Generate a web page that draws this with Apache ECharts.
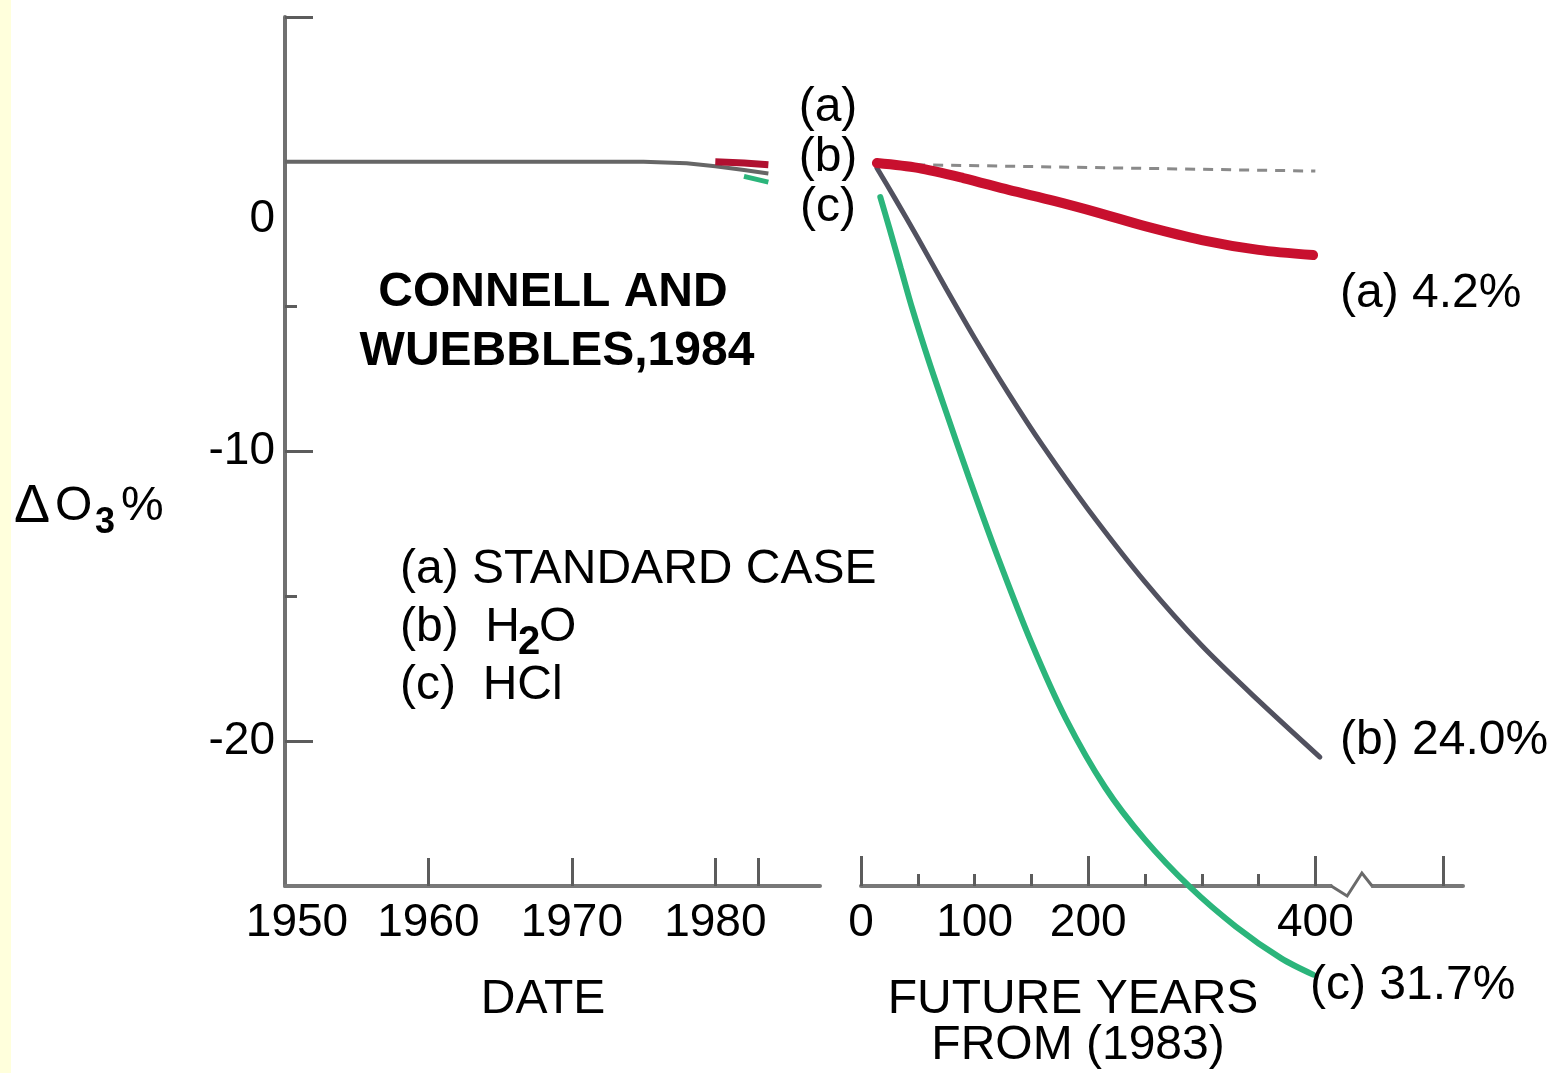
<!DOCTYPE html>
<html>
<head>
<meta charset="utf-8">
<script src="https://cdn.jsdelivr.net/npm/echarts@6/dist/echarts.min.js"></script>
<style>
  html, body { margin: 0; padding: 0; background: #ffffff; }
  #strip { position: absolute; left: 0; top: 0; width: 11px; height: 1073px; background: #ffffdc; }
  #chart { position: absolute; left: 0; top: 0; width: 1555px; height: 1073px; }
</style>
</head>
<body>
<div id="strip"></div>
<div id="chart"></div>
<script>
const FONT = '"Liberation Sans", Arial, Helvetica, sans-serif';

// ---- Observed period, 1950-1983 (ΔO3 %) ----
const historyYears = [1950, 1960, 1970, 1975, 1978, 1980, 1982, 1983.7];
const historyA = [null, null, null, null, null, 0.0, -0.04, -0.1];
const historyB = [0.0, 0.0, 0.0, 0.0, -0.05, -0.15, -0.28, -0.4];
const historyC = [null, null, null, null, null, null, -0.5, -0.7];

// ---- Future years from 1983 ----
const futureYearsA = [14, 50, 90, 130, 170, 210, 250, 300, 350, 398];
const futureA = [-0.04, -0.21, -0.56, -0.97, -1.35, -1.77, -2.22, -2.70, -3.04, -3.22];

const futureYearsB = [14, 30, 50, 75, 100, 130, 160, 200, 250, 300, 350, 404];
const futureB = [-0.21, -1.27, -2.63, -4.38, -6.08, -8.0, -9.8, -12.0, -14.5, -16.7, -18.6, -20.55];

const futureYearsC = [17, 25, 35, 45, 60, 75, 95, 120, 150, 180, 215, 250, 290, 330, 370, 398];
const futureC = [-1.22, -2.29, -3.67, -5.05, -6.91, -8.64, -10.9, -13.6, -16.6, -19.2, -21.6, -23.4, -25.05, -26.4, -27.5, -28.06];

// unperturbed reference (dashed)
const referenceYears = [16, 400];
const referenceValues = [-0.08, -0.32];

// steady-state column ozone decrease for each case (%)
const caseNames = ['(a)', '(b)', '(c)'];
const steadyStateLoss = [4.2, 24.0, 31.7];

// axis ticks and labels
const dateTicks = [1960, 1970, 1980, 1983];
const dateLabels = [1950, 1960, 1970, 1980];
const futureMajorTicks = [0, 200, 400, 513];
const futureMinorTicks = [50, 100, 150, 250, 300, 350];
const futureLabels = [0, 100, 200, 400];
const yMajorTicks = [5, -10, -20];
const yMinorTicks = [-5, -15];
const yLabels = [0, -10, -20];

const zip = (xs, ys) => xs.map((x, i) => [x, ys[i]]);

const axisColor = '#787878';
const tickColor = '#5c5c5c';
const C_A = '#c8102e', C_B = '#51515f', C_C = '#2bb57b', C_HIST = '#666666';

const leftGrid = { left: 285, top: 17, width: 535, height: 869 };
const rightGrid = { left: 861, top: 17, width: 602, height: 869 };

const labelBase = { color: '#000', fontSize: 46, fontFamily: FONT };

const chart = echarts.init(document.getElementById('chart'), null, { renderer: 'canvas' });

const smoothLine = { symbol: 'none', smooth: 0.3, clip: false };

const option = {
  backgroundColor: 'transparent',
  animation: false,
  grid: [
    Object.assign({}, leftGrid),
    Object.assign({}, rightGrid),
    Object.assign({}, leftGrid),
    Object.assign({}, rightGrid)
  ],
  xAxis: [
    {
      gridIndex: 0, type: 'value', min: 1950, max: 1987.3,
      axisLine: { show: true, onZero: false, lineStyle: { color: axisColor, width: 4 } },
      axisTick: { show: true, inside: true, length: 28, customValues: dateTicks, lineStyle: { color: tickColor, width: 3 } },
      axisLabel: Object.assign({ show: true, margin: 14, customValues: dateLabels,
        formatter: v => v === 1950 ? '{s|1950}' : String(v),
        rich: { s: { fontSize: 46, fontFamily: FONT, color: '#000', padding: [0, 0, 0, 24] } } }, labelBase),
      splitLine: { show: false }
    },
    {
      gridIndex: 1, type: 'value', min: 0, max: 530,
      axisLine: { show: true, onZero: false, lineStyle: { color: axisColor, width: 4 } },
      axisTick: { show: true, inside: true, length: 30, customValues: futureMajorTicks, lineStyle: { color: tickColor, width: 3 } },
      axisLabel: Object.assign({ show: true, margin: 14, customValues: futureLabels }, labelBase),
      splitLine: { show: false }
    },
    { gridIndex: 2, type: 'value', min: 1950, max: 1987.3, show: false },
    {
      gridIndex: 3, type: 'value', min: 0, max: 530,
      axisLine: { show: false, onZero: false },
      axisTick: { show: true, inside: true, length: 12, customValues: futureMinorTicks, lineStyle: { color: tickColor, width: 3 } },
      axisLabel: { show: false },
      splitLine: { show: false }
    }
  ],
  yAxis: [
    {
      gridIndex: 0, type: 'value', min: -25, max: 5, interval: 5,
      axisLine: { show: true, onZero: false, lineStyle: { color: '#707070', width: 4 } },
      axisTick: { show: true, inside: true, length: 28, customValues: yMajorTicks, lineStyle: { color: tickColor, width: 3 } },
      axisLabel: Object.assign({ show: true, margin: 10, customValues: yLabels,
        formatter: v => v === 0 ? '{z|0}' : String(v),
        rich: { z: { fontSize: 46, fontFamily: FONT, color: '#000', padding: [114, 0, 0, 0] } } }, labelBase),
      splitLine: { show: false }
    },
    { gridIndex: 1, type: 'value', min: -25, max: 5, show: false },
    {
      gridIndex: 2, type: 'value', min: -25, max: 5,
      axisLine: { show: false, onZero: false },
      axisTick: { show: true, inside: true, length: 12, customValues: yMinorTicks, lineStyle: { color: tickColor, width: 3 } },
      axisLabel: { show: false },
      splitLine: { show: false }
    },
    { gridIndex: 3, type: 'value', min: -25, max: 5, show: false }
  ],
  series: [
    // observed record
    { name: 'hist-b', type: 'line', xAxisIndex: 0, yAxisIndex: 0, data: zip(historyYears, historyB),
      symbol: 'none', clip: false, lineStyle: { color: C_HIST, width: 4 }, z: 3 },
    { name: 'hist-c', type: 'line', xAxisIndex: 0, yAxisIndex: 0, data: zip(historyYears, historyC),
      symbol: 'none', clip: false, lineStyle: { color: C_C, width: 5 }, z: 3 },
    { name: 'hist-a', type: 'line', xAxisIndex: 0, yAxisIndex: 0, data: zip(historyYears, historyA),
      symbol: 'none', clip: false, lineStyle: { color: '#b01030', width: 7 }, z: 4 },
    // reference (no change)
    { name: 'reference', type: 'line', xAxisIndex: 1, yAxisIndex: 1, data: zip(referenceYears, referenceValues),
      symbol: 'none', lineStyle: { color: '#8a8a8a', width: 3, type: [10, 8] }, z: 2 },
    // future scenarios
    Object.assign({ name: '(c) HCl', type: 'line', xAxisIndex: 1, yAxisIndex: 1, data: zip(futureYearsC, futureC),
      lineStyle: { color: C_C, width: 6, cap: 'round' }, z: 3 }, smoothLine),
    Object.assign({ name: '(b) H2O', type: 'line', xAxisIndex: 1, yAxisIndex: 1, data: zip(futureYearsB, futureB),
      lineStyle: { color: C_B, width: 5, cap: 'round' }, z: 4 }, smoothLine),
    Object.assign({ name: '(a) STANDARD CASE', type: 'line', xAxisIndex: 1, yAxisIndex: 1, data: zip(futureYearsA, futureA),
      lineStyle: { color: C_A, width: 10, cap: 'round' }, z: 5 }, smoothLine)
  ]
};

chart.setOption(option);

// ---- annotations ----
function txt(text, x, y, opts) {
  const o = opts || {};
  return {
    type: 'text', x: x, y: y, z: 10, silent: true,
    style: {
      text: text,
      fontSize: o.size || 48,
      fontWeight: o.weight || 'normal',
      fontFamily: FONT,
      fill: '#000',
      align: o.align || 'left',
      verticalAlign: 'middle'
    }
  };
}

const pct = v => v.toFixed(1) + '%';
const graphics = [
  // case tags at the start of the projections
  txt(caseNames[0], 828, 108, { align: 'center' }),
  txt(caseNames[1], 828, 158, { align: 'center' }),
  txt(caseNames[2], 828, 208, { align: 'center' }),
  // steady-state decreases
  txt(caseNames[0] + ' ' + pct(steadyStateLoss[0]), 1340, 294),
  txt(caseNames[1] + ' ' + pct(steadyStateLoss[1]), 1340, 741),
  txt(caseNames[2] + ' ' + pct(steadyStateLoss[2]), 1310, 986),
  // source
  txt('CONNELL AND', 553, 293, { align: 'center', weight: 'bold' }),
  txt('WUEBBLES,1984', 557, 352, { align: 'center', weight: 'bold' }),
  // key
  txt('(a) STANDARD CASE', 400, 570),
  txt('(b)  H', 400, 628),
  txt('2', 518, 643, { size: 40, weight: 'bold' }),
  txt('O', 539, 628),
  txt('(c)  HCl', 400, 686),
  // axis titles
  txt('Δ', 14, 507, { size: 54 }),
  txt('O', 55, 507),
  txt('3', 95, 523, { size: 36, weight: 'bold' }),
  txt('%', 121, 507),
  txt('DATE', 543, 1000, { align: 'center' }),
  txt('FUTURE YEARS', 1073, 1000, { align: 'center' }),
  txt('FROM (1983)', 1078, 1046, { align: 'center' })
];

// break mark on the future-years axis
const p = v => chart.convertToPixel({ xAxisIndex: 1, yAxisIndex: 1 }, [v, -25]);
const b0 = p(414), b1 = p(428), b2 = p(441), b3 = p(450);
graphics.push({
  type: 'rect', z: 20, silent: true,
  shape: { x: b0[0] + 1, y: b0[1] - 4, width: b3[0] - b0[0] - 2, height: 8 },
  style: { fill: '#ffffff' }
});
graphics.push({
  type: 'polyline', z: 21, silent: true,
  shape: { points: [[b0[0], b0[1]], [b1[0], b1[1] + 10], [b2[0], b2[1] - 13], [b3[0], b3[1]]] },
  style: { stroke: '#6a6a6a', lineWidth: 3, fill: null }
});

chart.setOption({ graphic: graphics });
</script>
</body>
</html>
